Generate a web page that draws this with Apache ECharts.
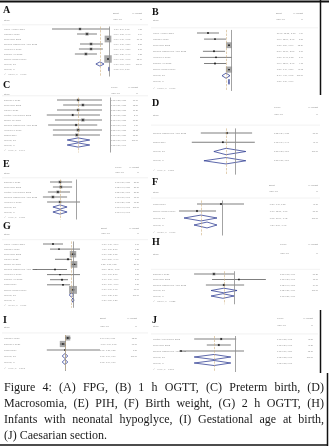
<!DOCTYPE html>
<html>
<head>
<meta charset="utf-8">
<script src="https://cdn.jsdelivr.net/npm/echarts@6/dist/echarts.min.js"></script>
<style>
  html, body { margin: 0; padding: 0; background: #fff; }
  #chart { width: 329px; height: 447px; }
</style>
</head>
<body>
<div id="chart"></div>
<script>
// (A) FPG  - last two values of est/lo/hi are Overall DL and Overall IV
const aStudy = ['Kwon H Chen 2021', 'Chaabi L 2020', 'Zeiwi Zeef 2022', 'Saydeh Mashayekh Amiri 2022', 'Wegrzyn L 2018', 'Jingzhe Yin 2022', 'Zheng Xiangyin 2019'];
const aEst = [-1.10, -0.84, -0.06, -0.69, -0.69, -0.88, -0.06, -0.36, -0.02];
const aLo = [-2.14, -1.21, -0.10, -1.10, -1.14, -1.29, -0.09, -0.51, -0.04];
const aHi = [0.01, -0.47, -0.02, -0.25, -0.25, -0.47, -0.03, -0.21, 0.00];
const aWt = [4.87, 7.04, 31.48, 5.86, 5.60, 6.21, 38.94];
const aHet = 'I\u00b2 = 93.0%, p = 0.000';

// (B) 1 h OGTT
const bStudy = ['Kwon H Chen 2021', 'Chaabi L 2020', 'Zeiwi Zeef 2022', 'Saydeh Mashayekh Amiri 2022', 'Wegrzyn L 2018', 'Jingzhe Yin 2022', 'Zheng Xiangyin 2019'];
const bEst = [-10.77, -7.54, -1.08, -8.00, -7.08, -7.54, -1.08, -2.46, -1.08];
const bLo = [-15.85, -12.60, -1.50, -13.10, -14.46, -12.60, -1.40, -4.31, -1.30];
const bHi = [-5.70, -2.46, -0.70, -2.90, 0.30, -2.46, -0.80, -0.62, -0.90];
const bWt = [4.54, 3.87, 38.24, 3.90, 3.40, 4.13, 41.92];
const bHet = 'I\u00b2 = 97.5%, p = 0.000';

// (C) Preterm birth
const cStudy = ['Dharabi L 2021', 'Zeiwi Zeef 2022', 'Liang Li 2021', 'Pantila Amir Rahimi 2022', 'Shiwei Liu 2021', 'Saydeh Mashayekh Amiri 2022', 'Wegrzyn L 2018', 'Zhang 2019'];
const cEst = [0.53, 0.60, 0.53, 0.45, 0.60, 0.50, 0.53, 0.51, 0.53, 0.53];
const cLo = [0.22, 0.31, 0.22, 0.07, 0.19, 0.09, 0.16, 0.16, 0.37, 0.37];
const cHi = [0.88, 0.88, 0.88, 0.85, 0.88, 0.81, 0.88, 0.85, 0.70, 0.70];
const cWt = [10.9, 12.5, 11.2, 8.4, 16.8, 9.1, 15.3, 15.8];
const cHet = 'I\u00b2 = 0.0%, p = 0.999';

// (D) Macrosomia
const dStudy = ['Saydeh Mashayekh Amiri 2022', 'Zhang 2019'];
const dEst = [0.82, 0.73, 0.80, 0.80];
const dLo = [0.24, 0.04, 0.53, 0.31];
const dHi = [1.38, 1.44, 1.24, 1.24];
const dWt = [59.6, 40.4];
const dHet = 'I\u00b2 = 0.0%, p = 0.850';

// (E) PIH
const eStudy = ['Dharabi L 2021', 'Zeiwi Zeef 2022', 'Pantila Amir Rahimi 2022', 'Saydeh Mashayekh Amiri 2022', 'Wegrzyn L 2018'];
const eEst = [0.60, 0.62, 0.55, 0.43, 0.60, 0.60, 0.60];
const eLo = [0.36, 0.43, 0.31, 0.19, 0.29, 0.43, 0.43];
const eHi = [0.89, 0.89, 0.84, 0.77, 1.08, 0.77, 0.77];
const eWt = [20.5, 21.3, 20.8, 19.6, 17.8];
const eHet = 'I\u00b2 = 0.0%, p = 0.920';

// (F) Birth weight
const fStudy = ['zhang 2018', 'Zheng Xiangyin 2019'];
const fEst = [-0.27, -7.17, -6.02, -4.29];
const fLo = [-7.17, -12.35, -10.90, -8.03];
const fHi = [6.35, -1.70, -1.42, -1.42];
const fWt = [49.3, 50.7];
const fHet = 'I\u00b2 = 98.3%, p = 0.000';

// (G) 2 h OGTT
const gStudy = ['Kwon H Chen 2021', 'Chaabi L 2020', 'Zeiwi Zeef 2022', 'Liang Li 2022', 'Shiwei Liu 2021', 'Saydeh Mashayekh Amiri 2022', 'Wegrzyn L 2018', 'Jingzhe Yin 2022', 'zhang 2019', 'Zheng Xiangyin 2019'];
const gEst = [-6.10, -4.30, -0.10, -1.60, 0.20, -5.50, -4.00, -3.40, -3.10, -0.10, -0.60, -0.15];
const gLo = [-9.10, -7.00, -0.85, -5.50, -0.50, -12.10, -7.90, -7.00, -7.90, -0.60, -1.20, -0.50];
const gHi = [-3.10, 2.00, 0.65, -0.40, 0.90, -1.90, 2.00, -1.60, -1.00, 0.40, 0.10, 0.20];
const gWt = [1.9, 1.2, 24.6, 3.1, 26.1, 0.9, 0.8, 2.6, 1.8, 37.0];
const gHet = 'I\u00b2 = 66.7%, p = 0.001';

// (H) Neonatal hypoglycaemia
const hStudy = ['Dharabi L 2021', 'Zeiwi Zeef 2022', 'Saydeh Mashayekh Amiri 2022'];
const hEst = [0.57, 1.10, 0.78, 0.78, 0.76];
const hLo = [0.15, 0.53, 0.40, 0.51, 0.51];
const hHi = [1.00, 1.67, 1.21, 1.06, 1.00];
const hWt = [51.2, 13.9, 34.9];
const hHet = 'I\u00b2 = 13.0%, p = 0.325';

// (I) Gestational age at birth
const iStudy = ['Chaabi L 2020', 'Dharabi L 2021', 'zhang 2019'];
const iEst = [0.04, -0.03, 0.00, 0.00, 0.00];
const iLo = [0.00, -0.07, -0.26, -0.04, -0.04];
const iHi = [0.08, 0.01, 0.50, 0.04, 0.04];
const iWt = [38.5, 61.0, 0.5];
const iHet = 'I\u00b2 = 0.0%, p = 0.595';

// (J) Caesarian section
const jStudy = ['Pantila Amir Rahimi 2022', 'Zeiwi Zeef 2022', 'Saydeh Mashayekh Amiri 2022'];
const jEst = [0.77, 0.73, 0.10, 0.65, 0.65];
const jLo = [0.32, 0.53, 0.07, 0.32, 0.32];
const jHi = [1.02, 0.93, 1.15, 0.93, 0.93];
const jWt = [43.5, 41.2, 15.3];
const jHet = 'I\u00b2 = 0.0%, p = 0.560';

const captionLines = [
  'Figure 4: (A) FPG, (B) 1 h OGTT, (C) Preterm birth, (D)',
  'Macrosomia, (E) PIH, (F) Birth weight, (G) 2 h OGTT, (H)',
  'Infants with neonatal hypoglyce, (I) Gestational age at birth,',
  '(J) Caesarian section.'
];

// panel placement (pixels) and axis ranges
const panels = [
  {id: 'A', study: aStudy, est: aEst, lo: aLo, hi: aHi, wt: aWt, het: aHet, head: 'Effect',
   x0: 4, letterY: 10, h1: 13, h2: 19, first: 29, step: 5, L: 45, R: 115, min: -2.4, max: 0.2, nul: 0, effX: 113, wtX: 142, box: 1.2, right: 148},
  {id: 'B', study: bStudy, est: bEst, lo: bLo, hi: bHi, wt: bWt, het: bHet, head: 'Effect',
   x0: 153, letterY: 12, h1: 13, h2: 19, first: 33, step: 6.1, L: 188, R: 240, min: -20, max: 4, nul: 0, effX: 276, wtX: 303, box: 0.95, right: 318},
  {id: 'C', study: cStudy, est: cEst, lo: cLo, hi: cHi, wt: cWt, het: cHet, head: 'exp(b)',
   x0: 4, letterY: 85, h1: 87, h2: 93, first: 100, step: 5, L: 42, R: 117, min: 0, max: 1.1, nul: 1, effX: 111, wtX: 138, box: 0.8, right: 148},
  {id: 'D', study: dStudy, est: dEst, lo: dLo, hi: dHi, wt: dWt, het: dHet, head: 'exp(b)',
   x0: 153, letterY: 103, h1: 107, h2: 114, first: 133, step: 9.25, L: 190, R: 262, min: 0, max: 1.6, nul: 1, effX: 274, wtX: 318, box: 0.3, right: 320},
  {id: 'E', study: eStudy, est: eEst, lo: eLo, hi: eHi, wt: eWt, het: eHet, head: 'exp(b)',
   x0: 4, letterY: 164, h1: 167, h2: 172, first: 182, step: 5, L: 35, R: 85, min: 0, max: 1.2, nul: 1, effX: 115, wtX: 139, box: 0.65, right: 148},
  {id: 'F', study: fStudy, est: fEst, lo: fLo, hi: fHi, wt: fWt, het: fHet, head: 'Effect',
   x0: 153, letterY: 182, h1: 185, h2: 191, first: 204, step: 7, L: 175, R: 248, min: -13.5, max: 7.5, nul: 0, effX: 269, wtX: 318, box: 0.3, right: 320},
  {id: 'G', study: gStudy, est: gEst, lo: gLo, hi: gHi, wt: gWt, het: gHet, head: 'Effect',
   x0: 4, letterY: 226, h1: 228, h2: 233, first: 244, step: 5.1, L: 25, R: 85, min: -14.5, max: 3.5, nul: 0, effX: 101, wtX: 139, box: 1.3, right: 148},
  {id: 'H', study: hStudy, est: hEst, lo: hLo, hi: hHi, wt: hWt, het: hHet, head: 'exp(b)',
   x0: 153, letterY: 242, h1: 244, h2: 253, first: 274, step: 5.5, L: 187, R: 272, min: 0, max: 1.8, nul: 1, effX: 280, wtX: 318, box: 0.4, right: 320},
  {id: 'I', study: iStudy, est: iEst, lo: iLo, hi: iHi, wt: iWt, het: iHet, head: 'Effect',
   x0: 4, letterY: 320, h1: 318, h2: 326, first: 338, step: 6, L: 30, R: 100, min: -0.5, max: 0.5, nul: 0, effX: 100, wtX: 137, box: 0.8, right: 148},
  {id: 'J', study: jStudy, est: jEst, lo: jLo, hi: jHi, wt: jWt, het: jHet, head: 'exp(b)',
   x0: 153, letterY: 320, h1: 318, h2: 325, first: 339, step: 6, L: 175, R: 262, min: 0, max: 1.45, nul: 1, effX: 277, wtX: 313, box: 0.35, right: 318}
];

const small = 'Liberation Sans';
const fmt = v => v.toFixed(2);

const grids = [], xAxes = [], yAxes = [], series = [], graphics = [];

panels.forEach((p, i) => {
  const n = p.study.length;
  const rows = p.study.concat(['Overall, DL', 'Overall, IV', p.het]);
  grids.push({left: p.L, top: p.first - p.step / 2, width: p.R - p.L, height: rows.length * p.step});
  xAxes.push({type: 'value', gridIndex: i, min: p.min, max: p.max, show: false});
  yAxes.push({
    type: 'category', gridIndex: i, data: rows, inverse: true,
    axisLine: {show: false}, axisTick: {show: false}, splitLine: {show: false},
    axisLabel: {interval: 0, align: 'left', margin: p.L - p.x0, fontSize: 2.4, color: '#999', fontFamily: small}
  });

  const data = [];
  for (let k = 0; k < n + 2; k++) {
    const kind = k < n ? 0 : (k === n ? 1 : 2);
    data.push([k, p.est[k], p.lo[k], p.hi[k], kind === 0 ? p.wt[k] : (kind === 1 ? 100 : 0), kind]);
  }

  series.push({
    type: 'custom', xAxisIndex: i, yAxisIndex: i, data: data,
    encode: {x: [1, 2, 3], y: 0},
    clip: false,
    renderItem: function (params, api) {
      const row = api.value(0), est = api.value(1), lo = api.value(2), hi = api.value(3);
      const w = api.value(4), kind = api.value(5);
      const c = api.coord([est, row]);
      const a = api.coord([lo, row]);
      const b = api.coord([hi, row]);
      const y = c[1];
      const children = [];
      if (kind === 0) {
        const s = Math.max(1.3, p.box * Math.sqrt(w));
        children.push({type: 'rect', shape: {x: c[0] - s / 2, y: y - s / 2, width: s, height: s}, style: {fill: '#a8a8a8'}});
        children.push({type: 'line', shape: {x1: a[0], y1: y, x2: b[0], y2: y}, style: {stroke: '#474747', lineWidth: 0.7}});
        children.push({type: 'rect', shape: {x: c[0] - 0.7, y: y - 0.7, width: 1.4, height: 1.4}, style: {fill: '#111'}});
      } else {
        const h = Math.min(3.2, p.step * 0.42);
        children.push({
          type: 'polygon',
          shape: {points: [[a[0], y], [c[0], y - h], [b[0], y], [c[0], y + h]]},
          style: {fill: 'none', stroke: '#27358f', lineWidth: 0.75}
        });
      }
      children.push({type: 'text', style: {x: p.effX, y: y, text: fmt(est) + ' (' + fmt(lo) + ', ' + fmt(hi) + ')',
        fontSize: 2.1, fontFamily: small, fill: '#8e8e8e', verticalAlign: 'middle'}});
      if (kind < 2) {
        children.push({type: 'text', style: {x: p.wtX, y: y, text: w.toFixed(2), align: 'right',
          fontSize: 2.1, fontFamily: small, fill: '#8e8e8e', verticalAlign: 'middle'}});
      }
      return {type: 'group', children: children};
    },
    markLine: {
      silent: true, symbol: ['none', 'none'], label: {show: false}, animation: false,
      data: [
        {xAxis: p.nul, lineStyle: {color: '#8c8c8c', width: 0.8, type: 'solid'}},
        {xAxis: p.est[n], lineStyle: {color: '#cfae7c', width: 0.6, type: 'dashed'}}
      ]
    }
  });

  // panel letter and column headers
  const tiny = {fontSize: 2.3, fontFamily: small, fill: '#8e8e8e', verticalAlign: 'middle'};
  graphics.push({type: 'text', x: p.x0 - 1, y: p.letterY, style: {text: p.id, fontSize: 10, fontWeight: 'bold',
    fontFamily: 'Liberation Serif', fill: '#111', verticalAlign: 'middle'}});
  graphics.push({type: 'text', x: p.x0, y: p.h2 + 1, style: Object.assign({text: 'Study'}, tiny)});
  graphics.push({type: 'text', x: p.effX, y: p.h1, style: Object.assign({text: p.head}, tiny)});
  graphics.push({type: 'text', x: p.effX, y: p.h2, style: Object.assign({text: '(95% CI)'}, tiny)});
  graphics.push({type: 'text', x: p.wtX, y: p.h1, style: Object.assign({text: '% Weight', align: 'right'}, tiny)});
  graphics.push({type: 'text', x: p.wtX, y: p.h2, style: Object.assign({text: '%', align: 'right'}, tiny)});
  graphics.push({type: 'line', shape: {x1: p.x0 - 2, y1: p.first - p.step * 0.85, x2: p.right, y2: p.first - p.step * 0.85},
    style: {stroke: '#e4e4e4', lineWidth: 0.5}});
});

// frame lines
const frame = [
  [0, 1.5, 329, 1.5, 2],
  [320.5, 0, 320.5, 95, 1.5],
  [320.5, 310, 320.5, 373, 1.5],
  [327.5, 373, 327.5, 446, 1.5],
  [0, 445, 328, 445, 1.5]
];
frame.forEach(f => graphics.push({type: 'line', shape: {x1: f[0], y1: f[1], x2: f[2], y2: f[3]},
  style: {stroke: '#111', lineWidth: f[4]}}));

// justified caption
const capFont = '12px "Liberation Serif"';
const ctx = document.createElement('canvas').getContext('2d');
ctx.font = capFont;
const capLeft = 4, capRight = 324, capTop = 388, capStep = 15.8;
captionLines.forEach((line, li) => {
  const words = line.split(' ');
  const widths = words.map(wd => ctx.measureText(wd).width);
  const total = widths.reduce((s, v) => s + v, 0);
  const last = li === captionLines.length - 1;
  const gap = last ? ctx.measureText(' ').width : (capRight - capLeft - total) / (words.length - 1);
  let x = capLeft;
  words.forEach((wd, wi) => {
    graphics.push({type: 'text', x: x, y: capTop + li * capStep,
      style: {text: wd, fontSize: 12, fontFamily: 'Liberation Serif', fill: '#1a1a1a', verticalAlign: 'middle'}});
    x += widths[wi] + gap;
  });
});

const chart = echarts.init(document.getElementById('chart'));
chart.setOption({
  animation: false,
  grid: grids,
  xAxis: xAxes,
  yAxis: yAxes,
  series: series,
  graphic: graphics
});
</script>
</body>
</html>
